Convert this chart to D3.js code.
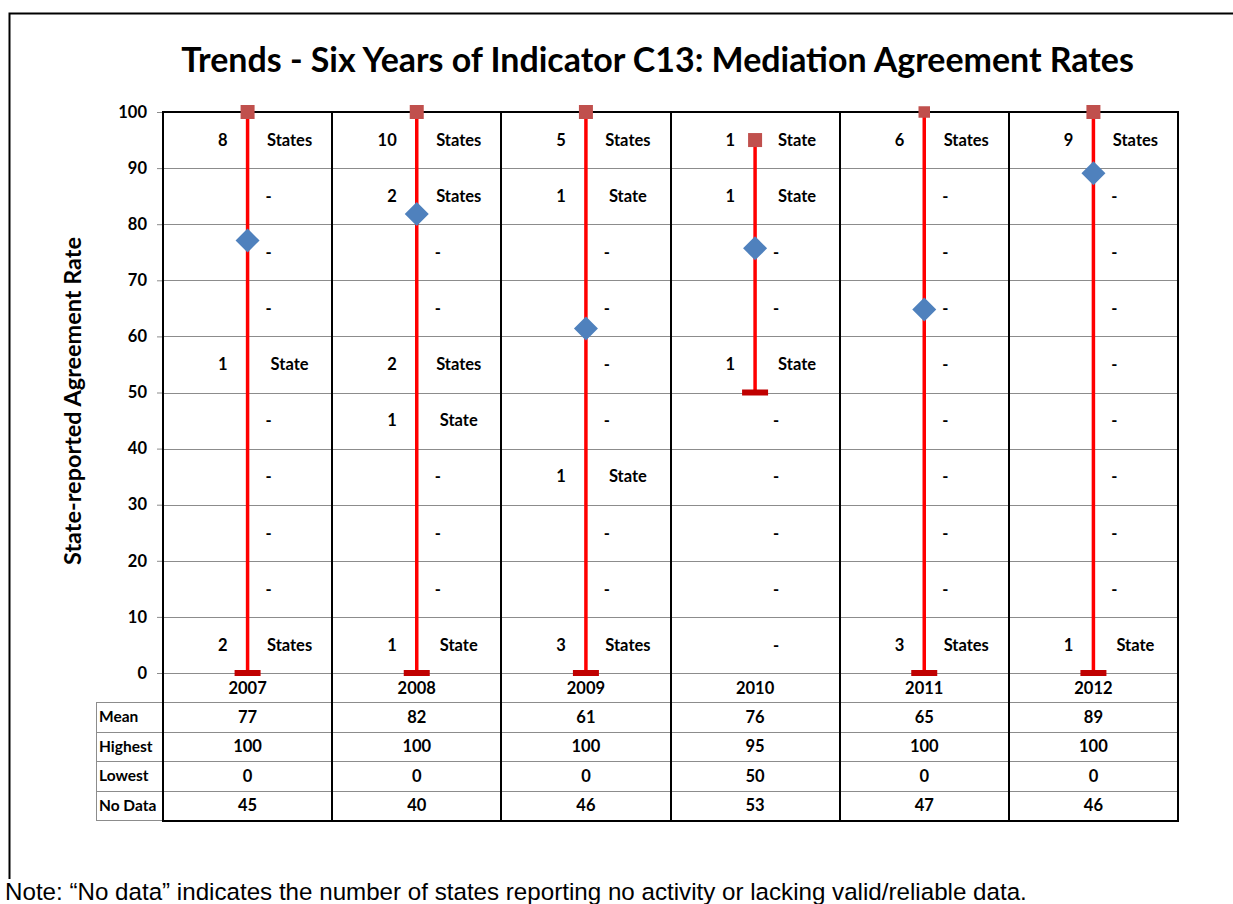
<!DOCTYPE html>
<html>
<head>
<meta charset="utf-8">
<script src="https://cdn.jsdelivr.net/npm/d3@7"></script>
<style>
  html, body { margin: 0; padding: 0; background: #fff; }
  svg { display: block; }
</style>
</head>
<body>
<svg id="chart" width="1233" height="904"></svg>
<script>
// ---------------- DATA ----------------
const years = ['2007', '2008', '2009', '2010', '2011', '2012'];
const meanVals = [77.1, 81.8, 61.4, 75.7, 64.8, 89.1];
const highVals = [100, 100, 100, 95, 100, 100];
const lowVals = [0, 0, 0, 50, 0, 0];
const noDataVals = [45, 40, 46, 53, 47, 46];
const yTicks = [0, 10, 20, 30, 40, 50, 60, 70, 80, 90, 100];
// lower bound of each 10-point band, top to bottom
const bandStarts = [90, 80, 70, 60, 50, 40, 30, 20, 10, 0];
// number of states in each band, per year (same order as bandStarts)
const counts2007 = [8, 0, 0, 0, 1, 0, 0, 0, 0, 2];
const counts2008 = [10, 2, 0, 0, 2, 1, 0, 0, 0, 1];
const counts2009 = [5, 1, 0, 0, 0, 0, 1, 0, 0, 3];
const counts2010 = [1, 1, 0, 0, 1, 0, 0, 0, 0, 0];
const counts2011 = [6, 0, 0, 0, 0, 0, 0, 0, 0, 3];
const counts2012 = [9, 0, 0, 0, 0, 0, 0, 0, 0, 1];
const rowLabels = ['Mean', 'Highest', 'Lowest', 'No Data'];
const titleText = 'Trends - Six Years of Indicator C13: Mediation Agreement Rates';
const yTitleText = 'State-reported Agreement Rate';
const noteText = 'Note: \u201CNo data\u201D indicates the number of states reporting no activity or lacking valid/reliable data.';

const countsByYear = [counts2007, counts2008, counts2009, counts2010, counts2011, counts2012];
const rows = years.map((y, i) => ({
  year: y, mean: meanVals[i], high: highVals[i], low: lowVals[i], noData: noDataVals[i], counts: countsByYear[i]
}));

// ---------------- LAYOUT ----------------
const svg = d3.select('#chart');
const FONT = 'Lato, "Open Sans", sans-serif';
const FS = 16.5;
const plotL = 163, plotR = 1178, plotT = 112, plotB = 673;
const tableTop = 702, tableBottom = 820, labelLeft = 96;

const x = d3.scaleBand().domain(years).range([plotL, plotR]).padding(0);
const y = d3.scaleLinear().domain([0, 100]).range([plotB, plotT]);
const rowY = d3.scaleBand().domain(rowLabels).range([tableTop, tableBottom]);
const cx = d => x(d) + x.bandwidth() / 2;

// outer frame
svg.append('path')
  .attr('d', 'M9.5,880 V13.5 H1240')
  .attr('fill', 'none').attr('stroke', '#000').attr('stroke-width', 2);

// title
function fitText(sel, width) {
  const len = sel.node().getComputedTextLength();
  const fs = parseFloat(sel.attr('font-size'));
  sel.attr('font-size', (fs * width / len).toFixed(2));
}
const title = svg.append('text')
  .attr('x', 657.5).attr('y', 72)
  .attr('text-anchor', 'middle')
  .attr('font-family', FONT).attr('font-weight', 700).attr('font-size', 30)
  .attr('fill', '#000')
  .text(titleText);
fitText(title, 953);

// y-axis title
const yt = svg.append('text')
  .attr('transform', 'translate(81,401) rotate(-90)')
  .attr('text-anchor', 'middle')
  .attr('font-family', FONT).attr('font-weight', 700).attr('font-size', 18)
  .attr('fill', '#000')
  .text(yTitleText);
fitText(yt, 328);

// gridlines
svg.append('g')
  .selectAll('line').data(yTicks.filter(t => t < 100)).join('line')
  .attr('x1', plotL).attr('x2', plotR)
  .attr('y1', d => Math.round(y(d)) + 0.5).attr('y2', d => Math.round(y(d)) + 0.5)
  .attr('stroke', '#8c8c8c').attr('stroke-width', 1);

// y axis
const yAxis = svg.append('g')
  .attr('transform', `translate(${plotL},0)`)
  .call(d3.axisLeft(y).tickValues(yTicks).tickSize(6).tickPadding(10));
yAxis.select('.domain').remove();
yAxis.selectAll('.tick line').attr('stroke', '#8c8c8c');
yAxis.selectAll('.tick text')
  .attr('font-family', FONT).attr('font-weight', 700).attr('font-size', FS).attr('fill', '#000');

// table horizontal lines
const hLines = [tableTop, tableTop + rowY.step(), tableTop + 2 * rowY.step(), tableTop + 3 * rowY.step()];
svg.append('g').selectAll('line').data(hLines).join('line')
  .attr('x1', labelLeft).attr('x2', plotR)
  .attr('y1', d => Math.round(d) + 0.5).attr('y2', d => Math.round(d) + 0.5)
  .attr('stroke', '#8c8c8c').attr('stroke-width', 1);
svg.append('line')
  .attr('x1', labelLeft).attr('x2', plotL)
  .attr('y1', tableBottom + 0.5).attr('y2', tableBottom + 0.5)
  .attr('stroke', '#8c8c8c');
svg.append('line')
  .attr('x1', labelLeft + 0.5).attr('x2', labelLeft + 0.5)
  .attr('y1', tableTop).attr('y2', tableBottom)
  .attr('stroke', '#8c8c8c');

// black column borders and top / bottom
const bounds = years.map(yr => x(yr)).concat([plotR]);
svg.append('g').selectAll('line').data(bounds).join('line')
  .attr('x1', d => Math.round(d)).attr('x2', d => Math.round(d))
  .attr('y1', plotT).attr('y2', tableBottom + 1)
  .attr('stroke', '#000').attr('stroke-width', 2);
svg.append('line')
  .attr('x1', plotL - 1).attr('x2', plotR + 1)
  .attr('y1', plotT).attr('y2', plotT)
  .attr('stroke', '#000').attr('stroke-width', 2);
svg.append('line')
  .attr('x1', plotL - 1).attr('x2', plotR + 1)
  .attr('y1', tableBottom + 1).attr('y2', tableBottom + 1)
  .attr('stroke', '#000').attr('stroke-width', 2);

// band count labels
const labelG = svg.append('g')
  .attr('font-family', FONT).attr('font-weight', 700).attr('font-size', FS).attr('fill', '#000');
rows.forEach(r => {
  r.counts.forEach((c, k) => {
    const yy = y(bandStarts[k] + 5);
    if (c === 0) {
      labelG.append('text')
        .attr('x', cx(r.year) + 21).attr('y', yy).attr('dy', '0.35em')
        .attr('text-anchor', 'middle').text('-');
    } else {
      labelG.append('text')
        .attr('x', cx(r.year) - 20).attr('y', yy).attr('dy', '0.35em')
        .attr('text-anchor', 'end').text(c);
      labelG.append('text')
        .attr('x', cx(r.year) + 42).attr('y', yy).attr('dy', '0.35em')
        .attr('text-anchor', 'middle').text(c === 1 ? 'State' : 'States');
    }
  });
});

// range lines
const marks = svg.append('g');
marks.selectAll('line.range').data(rows).join('line')
  .attr('class', 'range')
  .attr('x1', d => cx(d.year)).attr('x2', d => cx(d.year))
  .attr('y1', d => y(d.high)).attr('y2', d => y(d.low))
  .attr('stroke', '#ff0000').attr('stroke-width', 3.5);

// low markers
marks.selectAll('rect.low').data(rows).join('rect')
  .attr('class', 'low')
  .attr('x', d => cx(d.year) - 13).attr('y', d => y(d.low) - 3)
  .attr('width', 26).attr('height', 6)
  .attr('fill', '#c00000');

// high markers
const hiSize = d => d.year === '2011' ? 11.5 : 14;
marks.selectAll('rect.high').data(rows).join('rect')
  .attr('class', 'high')
  .attr('x', d => cx(d.year) - hiSize(d) / 2).attr('y', d => y(d.high) - hiSize(d) / 2)
  .attr('width', hiSize).attr('height', hiSize)
  .attr('fill', '#c0504d');

// mean diamonds
marks.selectAll('path.mean').data(rows).join('path')
  .attr('class', 'mean')
  .attr('transform', d => `translate(${cx(d.year)},${y(d.mean)})`)
  .attr('d', 'M0,-12 L12,0 L0,12 L-12,0 Z')
  .attr('fill', '#4f81bd');

// year labels
const tableText = svg.append('g')
  .attr('font-family', FONT).attr('font-weight', 700).attr('font-size', FS).attr('fill', '#000');
tableText.selectAll('text.year').data(rows).join('text')
  .attr('class', 'year')
  .attr('x', d => cx(d.year)).attr('y', 688).attr('dy', '0.35em')
  .attr('text-anchor', 'middle').text(d => d.year);

// row labels
tableText.selectAll('text.rowlab').data(rowLabels).join('text')
  .attr('class', 'rowlab')
  .attr('x', labelLeft + 3).attr('y', d => rowY(d) + rowY.bandwidth() / 2).attr('dy', '0.35em')
  .attr('font-size', 15.5)
  .text(d => d);

// table values
const fmt = d3.format('.0f');
const rowAccess = {
  'Mean': d => fmt(d.mean),
  'Highest': d => d.high,
  'Lowest': d => d.low,
  'No Data': d => d.noData
};
rowLabels.forEach(lab => {
  tableText.selectAll(null).data(rows).join('text')
    .attr('x', d => cx(d.year)).attr('y', rowY(lab) + rowY.bandwidth() / 2).attr('dy', '0.35em')
    .attr('text-anchor', 'middle').text(rowAccess[lab]);
});

// note
svg.append('rect').attr('x', 0).attr('y', 879).attr('width', 1040).attr('height', 25).attr('fill', '#fff');
const note = svg.append('text')
  .attr('x', 5).attr('y', 900)
  .attr('font-family', '"Liberation Sans", Arial, sans-serif').attr('font-size', 20)
  .attr('fill', '#000')
  .text(noteText);
fitText(note, 1022);
</script>
</body>
</html>
